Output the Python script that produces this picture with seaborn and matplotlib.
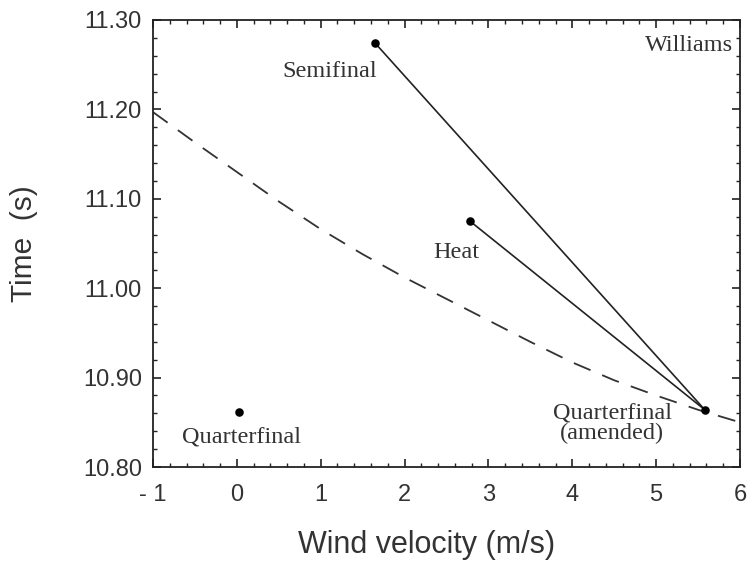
import matplotlib
matplotlib.use("Agg")
import matplotlib.pyplot as plt
import seaborn as sns
import pandas as pd
import numpy as np
from matplotlib.ticker import MultipleLocator

# Data
race_names = ["Semifinal", "Heat", "Quarterfinal", "Quarterfinal (amended)"]
wind = [1.65, 2.78, 0.02, 5.58]
times = [11.274, 11.075, 10.862, 10.864]

curve_wind = [-1.0, -0.5, 0.0, 0.5, 1.0, 1.5, 2.0, 2.5, 3.0, 3.5, 4.0, 4.5, 5.0, 5.5, 6.0]
curve_time = [11.197, 11.163, 11.130, 11.097, 11.066, 11.038, 11.012, 10.988, 10.964, 10.940, 10.917, 10.897, 10.880, 10.864, 10.850]

x_ticks = [-1, 0, 1, 2, 3, 4, 5, 6]
x_tick_labels = ["- 1", "0", "1", "2", "3", "4", "5", "6"]
y_ticks = [10.80, 10.90, 11.00, 11.10, 11.20, 11.30]
y_tick_labels = ["10.80", "10.90", "11.00", "11.10", "11.20", "11.30"]

sns.set_theme(style="white")
plt.rcParams['font.family'] = ['Liberation Sans', 'DejaVu Sans']

fig = plt.figure(figsize=(7.53, 5.65), dpi=100)
ax = fig.add_axes([153/753, 1-467/565, (740-153)/753, (467-20)/565])

curve_df = pd.DataFrame({"wind": curve_wind, "time": curve_time})
sns.lineplot(data=curve_df, x="wind", y="time", ax=ax, color="#333333",
             linewidth=1.3, dashes=False, linestyle=(0, (10, 7)), sort=False)

# connecting lines from Semifinal and Heat to amended Quarterfinal
for i in [0, 1]:
    seg = pd.DataFrame({"wind": [wind[i], wind[3]], "time": [times[i], times[3]]})
    sns.lineplot(data=seg, x="wind", y="time", ax=ax, color="#222222",
                 linewidth=1.2, sort=False)

pts = pd.DataFrame({"wind": wind, "time": times, "race": race_names})
sns.scatterplot(data=pts, x="wind", y="time", ax=ax, color="black", s=38,
                edgecolor="black", linewidth=0, zorder=5)

serif = dict(family=['Liberation Serif', 'DejaVu Serif'], fontsize=17.5, color="#333333")
ax.text(1.107, 11.242, "Semifinal", ha="center", va="center", **serif)
ax.text(2.62, 11.040, "Heat", ha="center", va="center", **serif)
ax.text(0.06, 10.834, "Quarterfinal", ha="center", va="center", **serif)
ax.text(4.476, 10.849, "Quarterfinal\n(amended)", ha="center", va="center",
        linespacing=1.0, **serif)
ax.text(5.393, 11.272, "Williams", ha="center", va="center", **serif)

ax.set_xlim(-1, 6)
ax.set_ylim(10.80, 11.30)
ax.set_xticks(x_ticks)
ax.set_xticklabels(x_tick_labels)
ax.set_yticks(y_ticks)
ax.set_yticklabels(y_tick_labels)
ax.xaxis.set_minor_locator(MultipleLocator(0.2))
ax.yaxis.set_minor_locator(MultipleLocator(0.02))
ax.tick_params(which="both", direction="in", top=True, right=True, bottom=True, left=True,
               colors="#222222", labelcolor="#333333")
ax.tick_params(which="major", length=6, width=1.2, labelsize=17)
ax.tick_params(axis="x", which="major", pad=12.5)
ax.tick_params(axis="y", which="major", pad=8)
ax.tick_params(which="minor", length=3, width=1.0)
for s in ax.spines.values():
    s.set_color("#222222")
    s.set_linewidth(1.3)
    s.set_visible(True)

ax.set_xlabel("Wind velocity (m/s)", fontsize=22, color="#333333", labelpad=17)
ax.xaxis.label.set_x((427 - 153) / 587)
ax.set_ylabel("Time  (s)", fontsize=21.5, color="#333333", labelpad=32)

fig.savefig("out.png", dpi=100)
